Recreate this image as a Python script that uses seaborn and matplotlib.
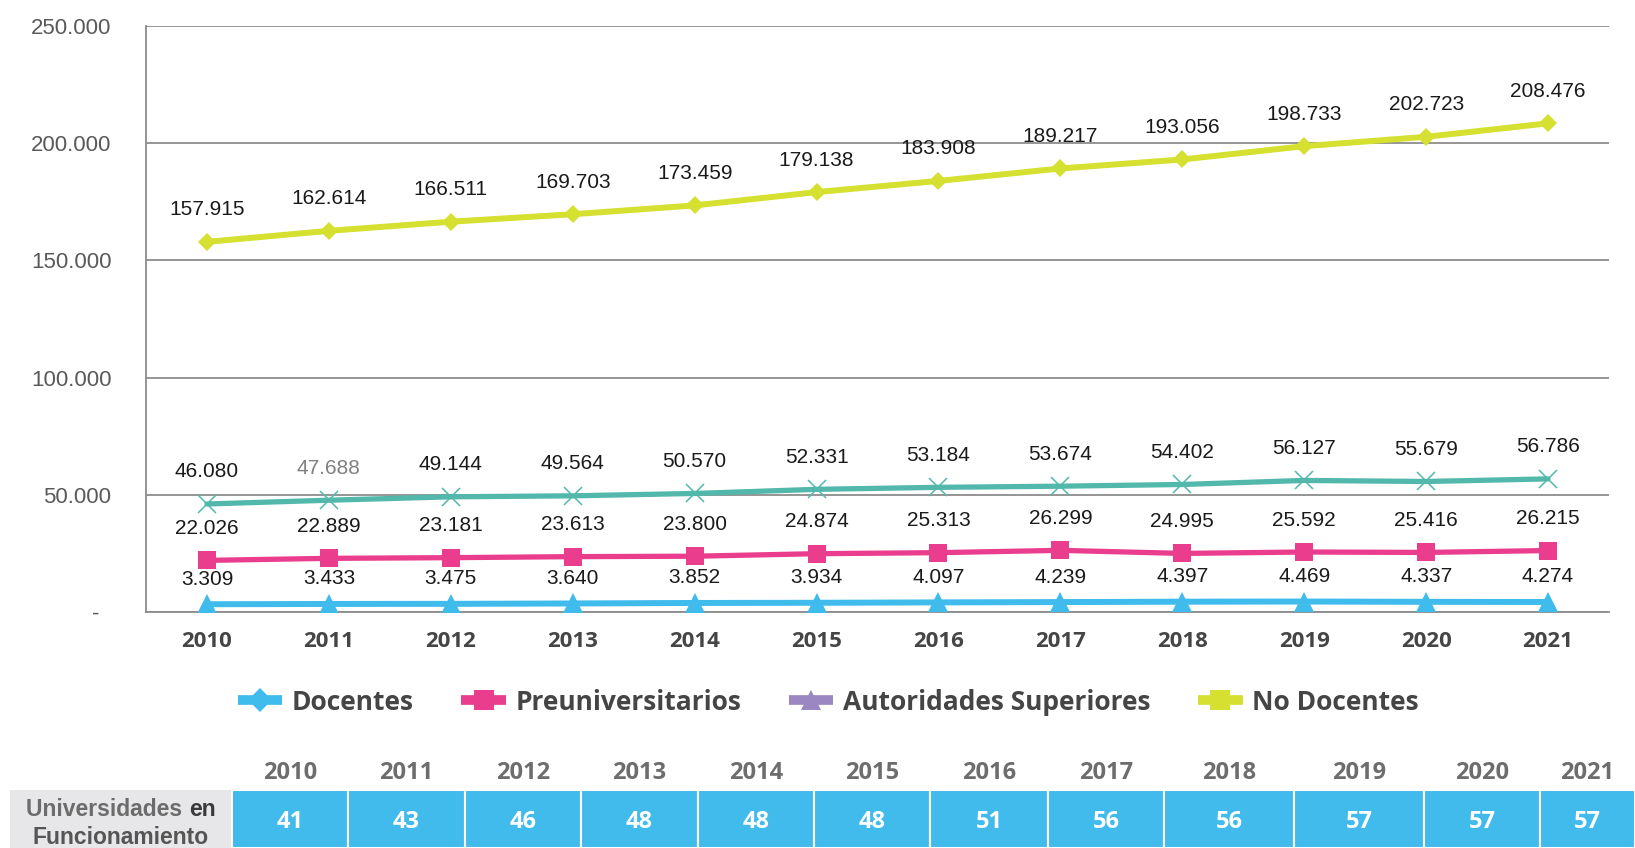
import matplotlib
matplotlib.use("Agg")
import matplotlib.pyplot as plt
import pandas as pd
import seaborn as sns
from matplotlib.lines import Line2D

# datos
years = [2010, 2011, 2012, 2013, 2014, 2015, 2016, 2017, 2018, 2019, 2020, 2021]
no_docentes = [157915, 162614, 166511, 169703, 173459, 179138, 183908, 189217, 193056, 198733, 202723, 208476]
serie_verde = [46080, 47688, 49144, 49564, 50570, 52331, 53184, 53674, 54402, 56127, 55679, 56786]
preuniversitarios = [22026, 22889, 23181, 23613, 23800, 24874, 25313, 26299, 24995, 25592, 25416, 26215]
docentes = [3309, 3433, 3475, 3640, 3852, 3934, 4097, 4239, 4397, 4469, 4337, 4274]
universidades = [41, 43, 46, 48, 48, 48, 51, 56, 56, 57, 57, 57]
y_ticks = [0, 50000, 100000, 150000, 200000, 250000]
legend_labels = ['Docentes', 'Preuniversitarios', 'Autoridades Superiores', 'No Docentes']

sns.set_style("white")
plt.rcParams['font.family'] = ['Liberation Sans', 'DejaVu Sans']

W, H = 1635, 848
fig = plt.figure(figsize=(W / 100, H / 100), dpi=100)
ax = fig.add_axes([146 / W, 1 - 612 / H, (1609 - 146) / W, (612 - 26) / H])

def fmt(v):
    return f"{v:,}".replace(',', '.')

# nombre, valores, color, marcador, tamaño, grosor, offset etiqueta (px)
series = [
    ('No Docentes', no_docentes, '#d5e031', 'D', 9, 4.3, 32),
    ('Serie', serie_verde, '#52b8ac', 'x', 12.5, 3.8, 32),
    ('Preuniversitarios', preuniversitarios, '#ea3d8d', 's', 13, 3.8, 32),
    ('Docentes', docentes, '#3fbbec', '^', 14, 4.3, 25),
]
for name, vals, col, mk, ms, lw, off in series:
    df = pd.DataFrame({'year': years, 'value': vals})
    sns.lineplot(data=df, x='year', y='value', ax=ax, color=col, linewidth=lw,
                 marker=mk, markersize=ms, mec=col, mfc=col,
                 mew=1.1 if mk == 'x' else 0, zorder=3)
    for i, (x, v) in enumerate(zip(years, vals)):
        c = '#808080' if (name == 'Serie' and i == 1) else '#1a1a1a'
        ax.annotate(fmt(v), (x, v), xytext=(0, off * 0.72), textcoords='offset points',
                    ha='center', va='center', fontsize=15, color=c)

ax.set_xlim(2009.5, 2021.5)
ax.set_ylim(0, 250000)
ax.set_yticks(y_ticks)
ax.set_yticklabels(['-\u00a0\u00a0'] + [fmt(t) for t in y_ticks[1:]], fontsize=16, color='#595959')
ax.set_xticks(years)
ax.set_xticklabels([str(y) for y in years], fontsize=16, fontweight='bold', color='#454545',
                   family=['Open Sans', 'DejaVu Sans'])
ax.tick_params(axis='y', length=0, pad=25)
ax.tick_params(axis='x', length=0, pad=14)
ax.grid(axis='y', color='#8c8c8c', linewidth=1.3)
ax.set_axisbelow(True)
for s in ['top', 'right']:
    ax.spines[s].set_visible(False)
for s in ['left', 'bottom']:
    ax.spines[s].set_color('#8c8c8c')
    ax.spines[s].set_linewidth(1.3)
ax.set_xlabel('')
ax.set_ylabel('')

# leyenda
handles = [
    Line2D([], [], color='#3fbbec', lw=7, marker='D', markersize=12.5, mew=0, solid_capstyle='butt'),
    Line2D([], [], color='#ea3d8d', lw=7, marker='s', markersize=15, mew=0, solid_capstyle='butt'),
    Line2D([], [], color='#9b88c2', lw=7, marker='^', markersize=15, mew=0, solid_capstyle='butt'),
    Line2D([], [], color='#d5e031', lw=7, marker='s', markersize=15, mew=0, solid_capstyle='butt'),
]
leg = fig.legend(handles, legend_labels, loc='center', bbox_to_anchor=(828 / W, 1 - 702 / H),
                 ncol=4, frameon=False, handlelength=1.7, handletextpad=0.35, columnspacing=1.8,
                 prop={'family': ['Open Sans', 'DejaVu Sans'], 'weight': 'bold', 'size': 19})
for t in leg.get_texts():
    t.set_color('#454545')

# tabla de universidades
ax_t = fig.add_axes([0, 0, 1, 88 / H])
ax_t.set_xlim(0, W)
ax_t.set_ylim(0, 88)
ax_t.axis('off')
edges = [232, 348, 465, 581, 698, 814, 930, 1048, 1164, 1294, 1424, 1540, 1635]
lefts = edges[:-1]
widths = [b - a for a, b in zip(edges[:-1], edges[1:])]
ax_t.bar([10], [58], width=[222], align='edge', color='#e7e7e9', linewidth=0)
ax_t.bar(lefts, [58] * len(lefts), width=widths, align='edge', color='#40bbec',
         edgecolor='white', linewidth=1.5)
for l, w, y, n in zip(lefts, widths, years, universidades):
    ax_t.text(l + w / 2, 75, str(y), ha='center', va='center', fontsize=17, fontweight='bold',
              color='#6d6d6d', family=['Open Sans', 'DejaVu Sans'])
    ax_t.text(l + w / 2, 26, str(n), ha='center', va='center', fontsize=17, fontweight='bold',
              color='white', family=['Open Sans', 'DejaVu Sans'])

fig.canvas.draw()
r = fig.canvas.get_renderer()
t1 = ax_t.text(0, 38, 'Universidades\u00a0', ha='left', va='center', fontsize=16.5,
               fontweight='bold', color='#6b6b6b')
t2 = ax_t.text(0, 38, 'en', ha='left', va='center', fontsize=16.5,
               fontweight='bold', color='#3a3a3a')
w1 = t1.get_window_extent(r).width
w2 = t2.get_window_extent(r).width
x0 = 121 - (w1 + w2) / 2
t1.set_x(x0)
t2.set_x(x0 + w1)
ax_t.text(121, 11, 'Funcionamiento', ha='center', va='center', fontsize=16.5,
          fontweight='bold', color='#555555')

fig.savefig('out.png', dpi=100, facecolor='white')
